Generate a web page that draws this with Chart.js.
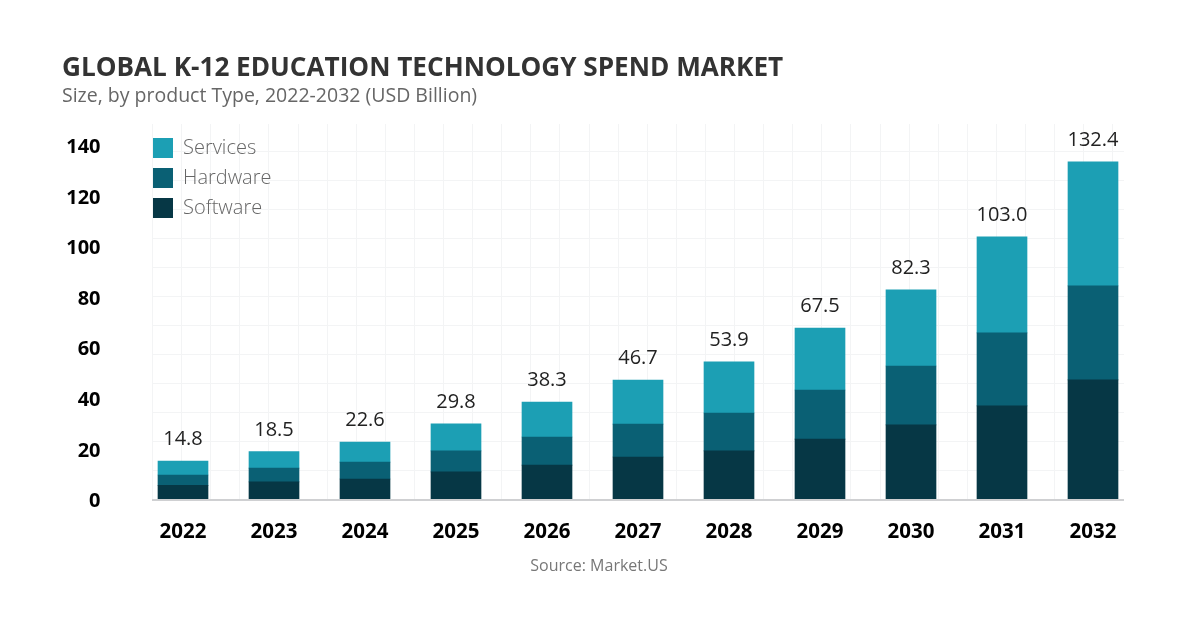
<!DOCTYPE html>
<html>
<head>
<meta charset="utf-8">
<title>Global K-12 Education Technology Spend Market</title>
<script src="https://cdn.jsdelivr.net/npm/chart.js@4"></script>
<style>
  html, body { margin: 0; padding: 0; background: #fff; }
  #wrap { position: relative; width: 1200px; height: 628px; overflow: hidden; font-family: "Open Sans", sans-serif; }
  #myChart { position: absolute; left: 0; top: 0; }
  .txt { position: absolute; white-space: nowrap; }
  #title { left: 62px; top: 48px; font-size: 26.15px; font-weight: 700; color: #333; line-height: 36px; }
  #subtitle { left: 62px; top: 81px; font-size: 19.5px; color: #666; line-height: 28px; }
  #source { left: 0; width: 1198px; text-align: center; top: 553px; font-size: 16px; color: #777; line-height: 24px; }
</style>
</head>
<body>
<div id="wrap">
  <canvas id="myChart" width="1200" height="628"></canvas>
  <div class="txt" id="title">GLOBAL K-12 EDUCATION TECHNOLOGY SPEND MARKET</div>
  <div class="txt" id="subtitle">Size, by product Type, 2022-2032 (USD Billion)</div>
  <div class="txt" id="source">Source: Market.US</div>
</div>
<script>
const years = ['2022', '2023', '2024', '2025', '2026', '2027', '2028', '2029', '2030', '2031', '2032'];
const software = [5.6, 7.0, 8.1, 10.9, 13.6, 16.8, 19.2, 23.9, 29.5, 37.0, 47.3];
const hardware = [4.1, 5.4, 6.7, 8.3, 11.1, 13.0, 15.0, 19.4, 23.3, 28.9, 37.2];
const services = [5.5, 6.6, 7.9, 10.7, 13.8, 17.4, 20.2, 24.5, 30.1, 38.0, 49.0];
const totalLabels = ['14.8', '18.5', '22.6', '29.8', '38.3', '46.7', '53.9', '67.5', '82.3', '103.0', '132.4'];

// faint background grid plus the grey base line
const backdrop = {
  id: 'backdrop',
  beforeDraw(chart) {
    const { ctx } = chart;
    const base = chart.scales.y.getPixelForValue(0);
    ctx.save();
    ctx.strokeStyle = '#f3f4f5';
    ctx.lineWidth = 1;
    ctx.beginPath();
    for (let x = 152; x < 1125; x += 29.1) {
      ctx.moveTo(Math.round(x) + 0.5, 124);
      ctx.lineTo(Math.round(x) + 0.5, base);
    }
    for (let y = base - 29; y > 124; y -= 29) {
      ctx.moveTo(152, y);
      ctx.lineTo(1124, y);
    }
    ctx.stroke();
    ctx.restore();

    // y tick labels sit 2px lower than the canvas middle baseline gives
    const yScale = chart.scales.y;
    yScale.getLabelItems(chart.chartArea).forEach((item, i) => {
      item.options.translation[1] = yScale.getPixelForTick(i) + 2;
    });

    // legend sits inside the plot, top left
    chart.legend.left = 143;
    chart.legend.top = 128;
  },
  afterDatasetsDraw(chart) {
    const { ctx } = chart;
    const base = chart.scales.y.getPixelForValue(0);
    ctx.save();
    ctx.strokeStyle = '#cfd0d2';
    ctx.lineWidth = 2;
    ctx.beginPath();
    ctx.moveTo(152, base + 0.5);
    ctx.lineTo(1124, base + 0.5);
    ctx.stroke();
    ctx.restore();
  }
};

// total above every stack
const totals = {
  id: 'totals',
  afterDatasetsDraw(chart) {
    const { ctx } = chart;
    const top = chart.getDatasetMeta(2).data;
    ctx.save();
    ctx.font = '20px "Open Sans"';
    ctx.fillStyle = '#222';
    ctx.textAlign = 'center';
    ctx.textBaseline = 'middle';
    top.forEach((bar, i) => ctx.fillText(totalLabels[i], bar.x, bar.y - 21.5));
    ctx.restore();
  }
};

new Chart(document.getElementById('myChart'), {
  type: 'bar',
  data: {
    labels: years,
    datasets: [
      { label: 'Software', data: software, backgroundColor: '#063745' },
      { label: 'Hardware', data: hardware, backgroundColor: '#0a6074' },
      { label: 'Services', data: services, backgroundColor: '#1c9fb4' }
    ]
  },
  plugins: [backdrop, totals],
  options: {
    responsive: false,
    animation: false,
    layout: { padding: { left: 0, right: 61.5, top: 145.5, bottom: 0 } },
    datasets: { bar: { barThickness: 50 } },
    plugins: {
      tooltip: { enabled: false },
      title: { display: false },
      legend: {
        position: 'chartArea',
        align: 'start',
        reverse: true,
        labels: {
          boxWidth: 20,
          boxHeight: 20,
          padding: 10,
          color: '#666',
          font: { family: 'Open Sans', size: 20, weight: '300' }
        }
      }
    },
    scales: {
      x: {
        stacked: true,
        grid: { display: false },
        border: { display: false },
        afterFit(axis) { axis.height = 128.5; },
        ticks: {
          padding: 12,
          color: '#000',
          maxRotation: 0,
          font: { family: 'Open Sans', size: 20.5, weight: 'bold' }
        }
      },
      y: {
        stacked: true,
        min: 0,
        max: 140,
        grid: { display: false },
        border: { display: false },
        afterFit(axis) { axis.width = 137.5; },
        ticks: {
          stepSize: 20,
          padding: 29,
          color: '#000',
          font: { family: 'Open Sans', size: 20, weight: 'bold' }
        }
      }
    }
  }
});
</script>
</body>
</html>
